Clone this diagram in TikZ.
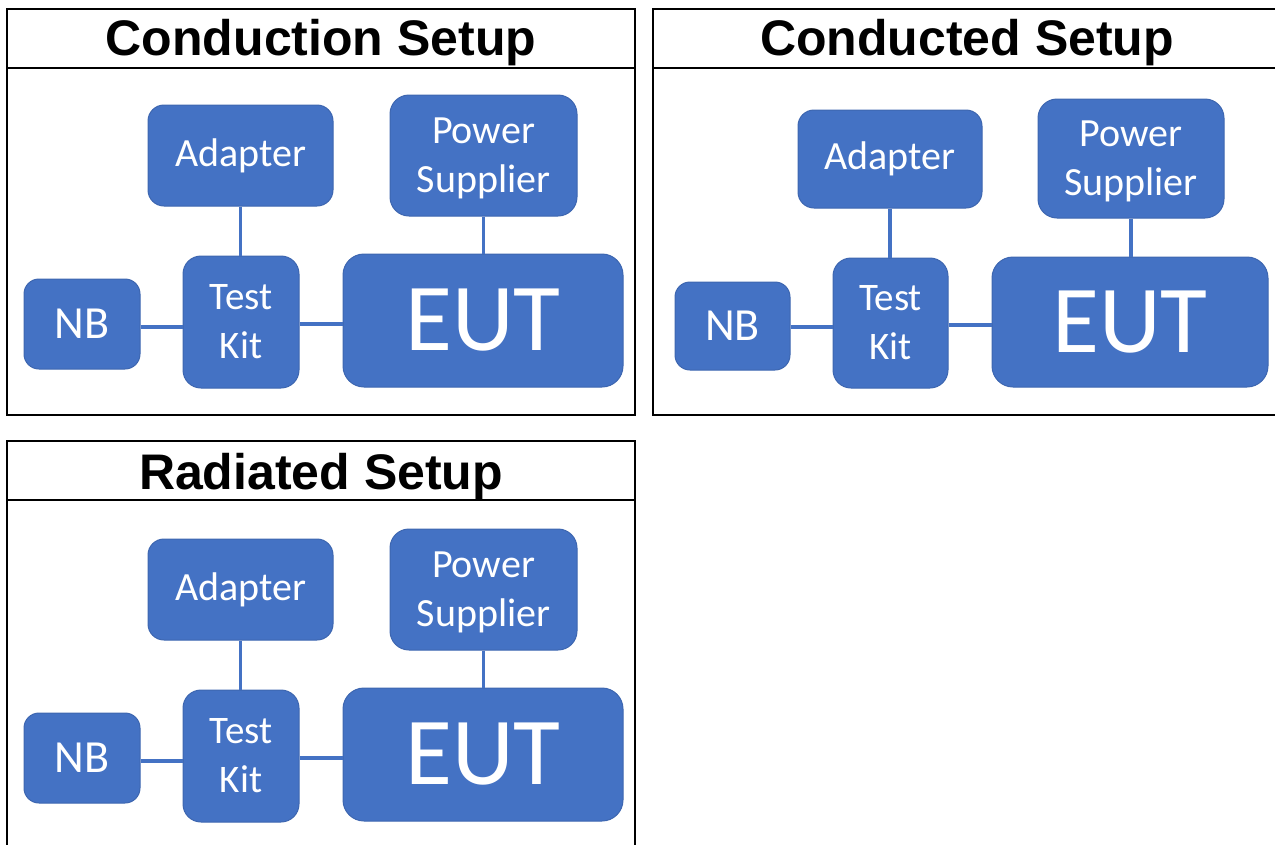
\documentclass[tikz,border=0pt]{standalone}
\usepackage{fontspec}
\setmainfont{Carlito}
\newfontfamily\titlefont{Liberation Sans}
\definecolor{boxblue}{HTML}{4472C4}
\definecolor{boxedge}{HTML}{3D66B0}
\begin{document}
\begin{tikzpicture}[x=1pt,y=-1pt,
  blk/.style={draw=boxedge, line width=1pt, fill=boxblue, text=white, inner sep=0pt, align=center},
  fs40/.style={font=\fontsize{40}{49}\selectfont},
  fs39/.style={font=\fontsize{39}{49}\selectfont},
  fs46/.style={font=\fontsize{46}{55}\selectfont},
  fs96/.style={font=\fontsize{96}{110}\selectfont},
  wire/.style={draw=boxblue, line width=3.5pt},
  frame/.style={draw=black, line width=2.5pt},
  ttl/.style={font=\titlefont\bfseries\fontsize{50}{60}\selectfont, anchor=base, inner sep=0pt}]
\useasboundingbox (0,0) rectangle (1275,844);

% ---------- Panel 1: Conduction Setup ----------
\draw[frame] (7,9) rectangle (635,415);
\draw[frame] (7,68) -- (635,68);
\node[ttl] (t1) at (321,55) {Conduction Setup};
\node[blk, fs40, minimum width=185pt, minimum height=101pt, rounded corners=16pt] (ad1) at (240.5,155.5) {Adapter};
\node[blk, fs40, minimum width=187pt, minimum height=121pt, rounded corners=19pt, text depth=0pt] (ps1) at (483.5,155.5) {Power\\Supplier};
\node[blk, fs46, minimum width=116pt, minimum height=90pt, rounded corners=15pt] (nb1) at (82,324) {NB};
\node[blk, fs39, minimum width=116pt, minimum height=132pt, rounded corners=18pt] (tk1) at (241,322) {Test\\Kit};
\node[blk, fs96, minimum width=280pt, minimum height=133pt, rounded corners=21pt] (eut1) at (483,320.5) {EUT};
\draw[wire] (ad1.south) -- (ad1.south |- tk1.north);
\draw[wire] (ps1.south) -- (ps1.south |- eut1.north);
\draw[wire] ([yshift=-3pt]nb1.east) coordinate (w11) -- (w11 -| tk1.west);
\draw[wire] ([yshift=-2pt]tk1.east) coordinate (w12) -- (w12 -| eut1.west);

% ---------- Panel 2: Conducted Setup ----------
\draw[frame] (653,9) rectangle (1300,415);
\draw[frame] (653,68) -- (1300,68);
\node[ttl] (t2) at (967,55) {Conducted Setup};
\node[blk, fs40, minimum width=184pt, minimum height=98pt, rounded corners=16pt] (ad2) at (890,159) {Adapter};
\node[blk, fs40, minimum width=186pt, minimum height=119pt, rounded corners=19pt, text depth=0pt] (ps2) at (1131,158.5) {Power\\Supplier};
\node[blk, fs46, minimum width=115pt, minimum height=88pt, rounded corners=15pt] (nb2) at (732.5,326) {NB};
\node[blk, fs39, minimum width=115pt, minimum height=130pt, rounded corners=18pt] (tk2) at (890.5,323) {Test\\Kit};
\node[blk, fs96, minimum width=276pt, minimum height=130pt, rounded corners=21pt] (eut2) at (1130,322) {EUT};
\draw[wire] (ad2.south) -- (ad2.south |- tk2.north);
\draw[wire] (ps2.south) -- (ps2.south |- eut2.north);
\draw[wire] ([yshift=-1pt]nb2.east) coordinate (w21) -- (w21 -| tk2.west);
\draw[wire] ([yshift=-2pt]tk2.east) coordinate (w22) -- (w22 -| eut2.west);

% ---------- Panel 3: Radiated Setup ----------
\begin{scope}[shift={(0,434)}]
\draw[frame] (7,7) rectangle (635,440);
\draw[frame] (7,66) -- (635,66);
\node[ttl] (t3) at (321,55) {Radiated Setup};
\node[blk, fs40, minimum width=185pt, minimum height=101pt, rounded corners=16pt] (ad3) at (240.5,155.5) {Adapter};
\node[blk, fs40, minimum width=187pt, minimum height=121pt, rounded corners=19pt, text depth=0pt] (ps3) at (483.5,155.5) {Power\\Supplier};
\node[blk, fs46, minimum width=116pt, minimum height=90pt, rounded corners=15pt] (nb3) at (82,324) {NB};
\node[blk, fs39, minimum width=116pt, minimum height=132pt, rounded corners=18pt] (tk3) at (241,322) {Test\\Kit};
\node[blk, fs96, minimum width=280pt, minimum height=133pt, rounded corners=21pt] (eut3) at (483,320.5) {EUT};
\draw[wire] (ad3.south) -- (ad3.south |- tk3.north);
\draw[wire] (ps3.south) -- (ps3.south |- eut3.north);
\draw[wire] ([yshift=-3pt]nb3.east) coordinate (w31) -- (w31 -| tk3.west);
\draw[wire] ([yshift=-2pt]tk3.east) coordinate (w32) -- (w32 -| eut3.west);
\end{scope}
\end{tikzpicture}
\end{document}
